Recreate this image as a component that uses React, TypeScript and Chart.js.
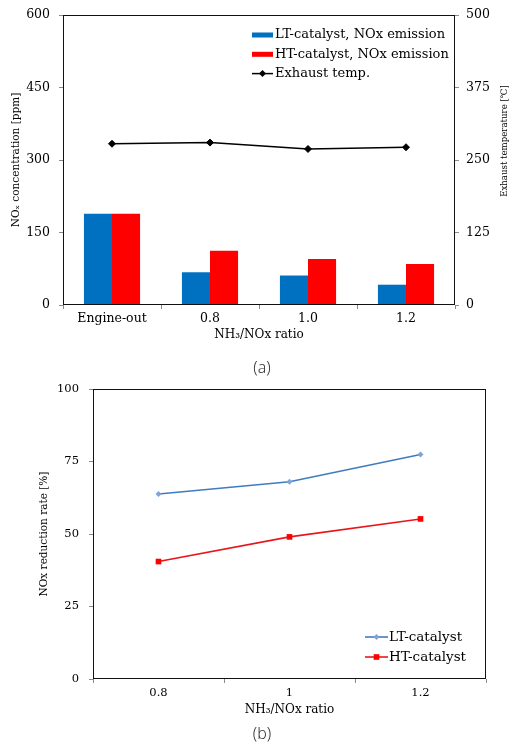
import React, { useEffect, useRef } from "react";
import { Chart, registerables } from "chart.js";

Chart.register(...registerables);

// ---------- data: chart (a) ----------
const categoriesA = ["Engine-out", "0.8", "1.0", "1.2"];
const ltNoxEmission = [189, 68, 61, 42];
const htNoxEmission = [189, 112, 95, 85];
const exhaustTemp = [278, 280, 269, 272];
const noxTicks = [0, 150, 300, 450, 600];
const tempTicks = [0, 125, 250, 375, 500];

// ---------- data: chart (b) ----------
const categoriesB = ["0.8", "1", "1.2"];
const ltReduction = [63.8, 68.0, 77.4];
const htReduction = [40.5, 49.0, 55.2];
const reductionTicks = [0, 25, 50, 75, 100];

const SERIF = "'DejaVu Serif', 'Liberation Serif', serif";
const INK = "#000";

const frameBox = {
  id: "frameBox",
  afterDraw(chart: any) {
    const { ctx, chartArea: a } = chart;
    ctx.save();
    ctx.strokeStyle = "#111";
    ctx.lineWidth = 1;
    const l = Math.round(a.left) + 0.5;
    const t = Math.round(a.top) + 0.5;
    const r = Math.round(a.right) - 0.5;
    const b = Math.round(a.bottom) - 0.5;
    ctx.strokeRect(l, t, r - l, b - t);
    ctx.restore();
  },
};

function drawMarker(ctx: CanvasRenderingContext2D, style: string, x: number, y: number, r: number) {
  ctx.beginPath();
  if (style === "rect") {
    const s = r * Math.SQRT1_2;
    ctx.rect(x - s, y - s, 2 * s, 2 * s);
  } else {
    ctx.moveTo(x, y - r);
    ctx.lineTo(x + r, y);
    ctx.lineTo(x, y + r);
    ctx.lineTo(x - r, y);
    ctx.closePath();
  }
  ctx.fill();
}

const insideLegend = {
  id: "insideLegend",
  afterDraw(chart: any, _args: any, opts: any) {
    if (!opts || !opts.display) return;
    const { ctx, chartArea } = chart;
    const x0 = chartArea.left + opts.left;
    let y = chartArea.top + opts.top;
    ctx.save();
    chart.data.datasets.forEach((ds: any) => {
      const type = ds.type || chart.config.type;
      if (type === "bar") {
        ctx.fillStyle = ds.backgroundColor;
        ctx.fillRect(x0, y - opts.boxHeight / 2, opts.swatch, opts.boxHeight);
      } else {
        ctx.strokeStyle = ds.borderColor;
        ctx.lineWidth = ds.borderWidth;
        ctx.beginPath();
        ctx.moveTo(x0, y);
        ctx.lineTo(x0 + opts.swatch, y);
        ctx.stroke();
        ctx.fillStyle = ds.pointBackgroundColor;
        drawMarker(ctx, ds.pointStyle, x0 + opts.swatch / 2, y, ds.pointRadius);
      }
      ctx.fillStyle = INK;
      ctx.font = opts.font;
      ctx.textBaseline = "middle";
      ctx.textAlign = "left";
      ctx.fillText(ds.label, x0 + opts.swatch + opts.gap, y);
      y += opts.rowHeight;
    });
    ctx.restore();
  },
};

const rightTitle = {
  id: "rightTitle",
  afterDraw(chart: any, _args: any, opts: any) {
    if (!opts || !opts.display) return;
    const sc = chart.scales[opts.scale];
    const { ctx, chartArea } = chart;
    ctx.save();
    ctx.translate(sc.right - opts.offset, (chartArea.top + chartArea.bottom) / 2 + opts.shift);
    ctx.rotate(-Math.PI / 2);
    ctx.font = opts.font;
    ctx.fillStyle = INK;
    ctx.textAlign = "center";
    ctx.textBaseline = "middle";
    ctx.fillText(opts.text, 0, 0);
    ctx.restore();
  },
};

const tickGrid = {
  offset: true,
  drawOnChartArea: false,
  drawTicks: true,
  tickLength: 4,
  color: "#8a8a8a",
};
const yGrid = { drawOnChartArea: false, drawTicks: true, tickLength: 4, color: "#8a8a8a" };

function fixWidth(w: number) {
  return (s: any) => {
    s.width = w;
    s.paddingTop = 5;
    s.paddingBottom = 5;
  };
}

function ChartA() {
  const ref = useRef<HTMLCanvasElement | null>(null);
  useEffect(() => {
    if (!ref.current) return;
    const chart = new Chart(ref.current, {
      type: "bar",
      data: {
        labels: categoriesA,
        datasets: [
          {
            label: "LT-catalyst, NOx emission",
            data: ltNoxEmission,
            backgroundColor: "#0070C0",
            yAxisID: "y",
            categoryPercentage: 0.573,
            barPercentage: 1,
          },
          {
            label: "HT-catalyst, NOx emission",
            data: htNoxEmission,
            backgroundColor: "#FF0000",
            yAxisID: "y",
            categoryPercentage: 0.573,
            barPercentage: 1,
          },
          {
            type: "line",
            label: "Exhaust temp.",
            data: exhaustTemp,
            yAxisID: "y1",
            borderColor: "#000",
            borderWidth: 1.5,
            pointStyle: "rectRot",
            pointRadius: 3.5,
            pointBackgroundColor: "#000",
            pointBorderColor: "#000",
            pointBorderWidth: 1,
          } as any,
        ],
      },
      options: {
        responsive: false,
        animation: false,
        layout: { padding: { top: 15, left: 0, right: 0, bottom: 0 } },
        plugins: {
          legend: { display: false },
          tooltip: { enabled: false },
          insideLegend: {
            display: true,
            left: 189,
            top: 20,
            swatch: 21,
            boxHeight: 5,
            gap: 2,
            rowHeight: 19.3,
            font: `13px ${SERIF}`,
          },
          rightTitle: {
            display: true,
            scale: "y1",
            offset: 6,
            shift: -19,
            text: "Exhaust temperature [\u2103]",
            font: `8.6px ${SERIF}`,
          },
        } as any,
        scales: {
          x: {
            offset: true,
            grid: tickGrid,
            border: { display: false },
            ticks: { font: { family: SERIF, size: 12.5 }, color: INK, padding: 2 },
            title: {
              display: true,
              text: "NH\u2083/NOx ratio",
              font: { family: SERIF, size: 12 },
              color: INK,
              padding: { top: 0, bottom: 37.8 },
            },
            afterFit: (s: any) => {
              s.height = 75;
            },
          },
          y: {
            position: "left",
            min: noxTicks[0],
            max: noxTicks[noxTicks.length - 1],
            grid: yGrid,
            border: { display: false },
            ticks: {
              stepSize: noxTicks[1] - noxTicks[0],
              font: { family: SERIF, size: 12.5 },
              color: INK,
              padding: 9,
            },
            title: {
              display: true,
              text: "NO\u2093 concentration [ppm]",
              font: { family: SERIF, size: 10.5 },
              color: INK,
              padding: { top: 10, bottom: 0 },
            },
            afterFit: fixWidth(63),
          },
          y1: {
            position: "right",
            min: tempTicks[0],
            max: tempTicks[tempTicks.length - 1],
            grid: yGrid,
            border: { display: false },
            ticks: {
              stepSize: tempTicks[1] - tempTicks[0],
              font: { family: SERIF, size: 12.5 },
              color: INK,
              padding: 7,
            },
            afterFit: fixWidth(56),
          },
        } as any,
      },
      plugins: [frameBox, insideLegend, rightTitle],
    });
    return () => chart.destroy();
  }, []);
  return (
    <canvas
      ref={ref}
      width={511}
      height={380}
      style={{ position: "absolute", left: 0, top: 0, width: 511, height: 380 }}
    />
  );
}

function ChartB() {
  const ref = useRef<HTMLCanvasElement | null>(null);
  useEffect(() => {
    if (!ref.current) return;
    const chart = new Chart(ref.current, {
      type: "line",
      data: {
        labels: categoriesB,
        datasets: [
          {
            label: "LT-catalyst",
            data: ltReduction,
            borderColor: "#3f7cbf",
            borderWidth: 1.6,
            pointStyle: "rectRot",
            pointRadius: 3,
            pointBackgroundColor: "#7da6d6",
            pointBorderColor: "#7da6d6",
            pointBorderWidth: 0,
          } as any,
          {
            label: "HT-catalyst",
            data: htReduction,
            borderColor: "#e8161c",
            borderWidth: 1.6,
            pointStyle: "rect",
            pointRadius: 4,
            pointBackgroundColor: "#ff0000",
            pointBorderColor: "#ff0000",
            pointBorderWidth: 0,
          } as any,
        ],
      },
      options: {
        responsive: false,
        animation: false,
        layout: { padding: { top: 9, left: 0, right: 25, bottom: 0 } },
        plugins: {
          legend: { display: false },
          tooltip: { enabled: false },
          insideLegend: {
            display: true,
            left: 272,
            top: 248,
            swatch: 23,
            boxHeight: 5,
            gap: 1,
            rowHeight: 20,
            font: `13.5px ${SERIF}`,
          },
        } as any,
        scales: {
          x: {
            offset: true,
            grid: tickGrid,
            border: { display: false },
            ticks: { font: { family: SERIF, size: 11.5 }, color: INK, padding: 3 },
            title: {
              display: true,
              text: "NH\u2083/NOx ratio",
              font: { family: SERIF, size: 12 },
              color: INK,
              padding: { top: 0, bottom: 34.8 },
            },
            afterFit: (s: any) => {
              s.height = 73;
            },
          },
          y: {
            min: reductionTicks[0],
            max: reductionTicks[reductionTicks.length - 1],
            grid: yGrid,
            border: { display: false },
            ticks: {
              stepSize: reductionTicks[1] - reductionTicks[0],
              font: { family: SERIF, size: 11.5 },
              color: INK,
              padding: 10,
            },
            title: {
              display: true,
              text: "NOx reduction rate [%]",
              font: { family: SERIF, size: 10.5 },
              color: INK,
              padding: { top: 37.7, bottom: 0 },
            },
            afterFit: fixWidth(93),
          },
        } as any,
      },
      plugins: [frameBox, insideLegend],
    });
    return () => chart.destroy();
  }, []);
  return (
    <canvas
      ref={ref}
      width={511}
      height={372}
      style={{ position: "absolute", left: 0, top: 380, width: 511, height: 372 }}
    />
  );
}

const captionStyle: React.CSSProperties = {
  position: "absolute",
  left: 0,
  width: 524,
  textAlign: "center",
  fontFamily: "'Noto Sans', 'DejaVu Sans', sans-serif",
  fontSize: 16,
  lineHeight: "20px",
  color: "#333",
  fontWeight: 300,
};

export default function App() {
  return (
    <div
      style={{
        position: "absolute",
        left: 0,
        top: 0,
        width: 511,
        height: 752,
        background: "#fff",
        overflow: "hidden",
      }}
    >
      <ChartA />
      <div style={{ ...captionStyle, top: 357 }}>(a)</div>
      <ChartB />
      <div style={{ ...captionStyle, top: 723 }}>(b)</div>
    </div>
  );
}
